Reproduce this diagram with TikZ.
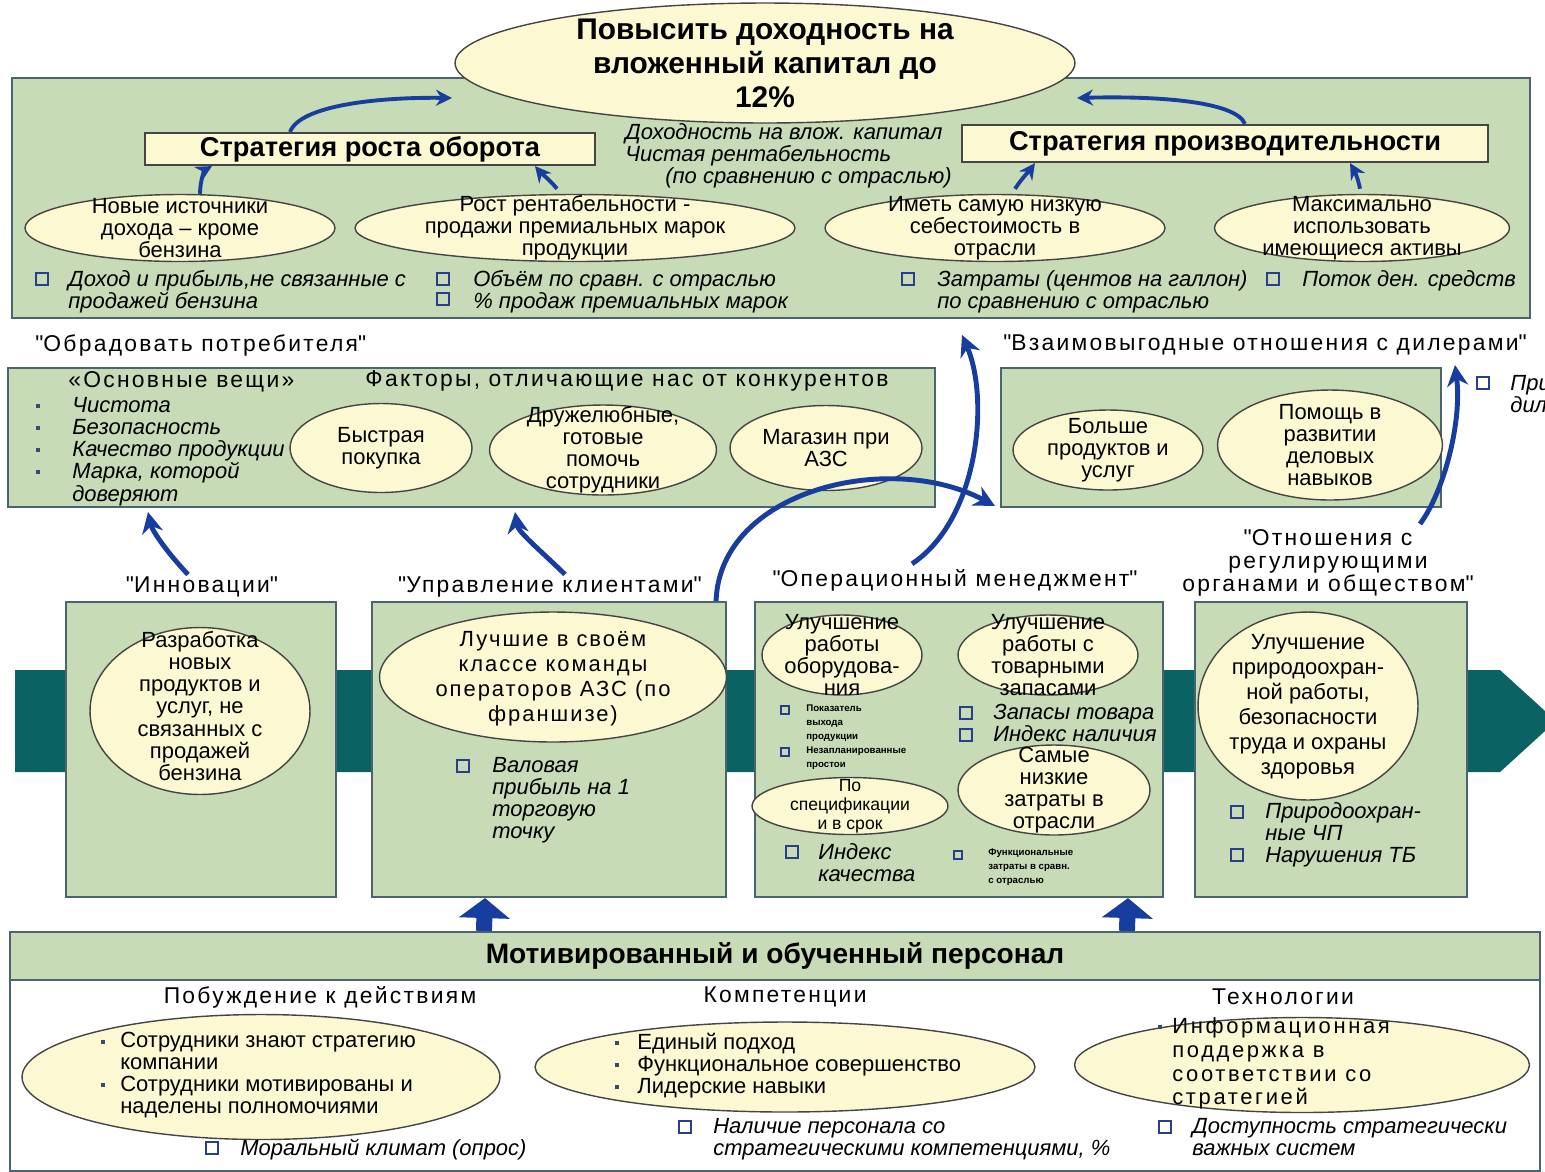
\documentclass[tikz,border=0pt]{standalone}
\usepackage{fontspec}
\setmainfont{Liberation Sans}
\usetikzlibrary{arrows.meta,shapes.geometric,fit,calc}
\definecolor{panelgreen}{HTML}{C6DBB6}
\definecolor{panelline}{HTML}{4A6470}
\definecolor{ovalfill}{HTML}{FCF9D2}
\definecolor{ovalline}{HTML}{454545}
\definecolor{bandteal}{HTML}{0A6262}
\definecolor{flowblue}{HTML}{173E9E}
\definecolor{chkblue}{HTML}{2A3F8C}
\definecolor{dotgray}{HTML}{3A4A6A}

\begin{document}
\begin{tikzpicture}[x=0.02cm,y=-0.02cm,
  panel/.style={draw=panelline,fill=panelgreen,line width=1.2pt,inner sep=0pt},
  board/.style={draw=ovalline,fill=ovalfill,line width=1.2pt,inner sep=0pt},
  oval/.style={ellipse,draw=ovalline,fill=ovalfill,line width=0.8pt,inner sep=0pt},
  txt/.style={font=\fontsize{12.5}{12.6}\selectfont,align=center,inner sep=0pt},
  big/.style={font=\fontsize{12.5}{14.2}\selectfont,align=center,inner sep=0pt},
  wide/.style={font=\fontsize{12.5}{14.2}\selectfont\addfontfeature{LetterSpace=9},align=center,inner sep=0pt},
  kpi/.style={font=\fontsize{12.5}{12.6}\selectfont\itshape,align=left,anchor=north west,inner sep=0pt},
  plain/.style={font=\fontsize{12.5}{12.4}\selectfont,align=left,anchor=north west,inner sep=0pt},
  tiny/.style={font=\fontsize{5.5}{8}\selectfont\bfseries,align=left,anchor=north west,inner sep=0pt},
  head/.style={font=\fontsize{13}{13.3}\selectfont\addfontfeature{LetterSpace=10},align=center,inner sep=0pt},
  chk/.style={draw=chkblue,line width=0.9pt,minimum size=0.24cm,inner sep=0pt},
  smallchk/.style={chk,minimum size=0.15cm},
  dot/.style={fill=dotgray,minimum size=0.08cm,inner sep=0pt},
  flow/.style={draw=flowblue,line width=2.8pt,-{Stealth[length=0.42cm,width=0.42cm]}},
  thinflow/.style={draw=flowblue,line width=2.2pt,-{Stealth[length=0.32cm,width=0.32cm]}},
  push/.style={draw=flowblue,line width=0.32cm,-{Triangle[length=0.4cm,width=1cm]}}
]
\useasboundingbox (0,0) rectangle (1545,1171);
\clip (0,0) rectangle (1545,1171);

% financial perspective
\node[panel,fit={(12,78) (1530,318)}] (fin) {};
\node[oval,minimum width=12.4cm,minimum height=2.4cm] (goal) at (765,63) {};
\node[font=\fontsize{17}{19.3}\selectfont\bfseries,align=center,inner sep=0pt] (goalt) at (goal) {Повысить доходность на\\вложенный капитал до\\12\%};
\node[board,fit={(145,133) (595,165)}] (grow) {};
\node[font=\fontsize{15.5}{16}\selectfont\bfseries,inner sep=0pt] (growt) at (grow) {Стратегия роста оборота};
\node[board,fit={(962,125) (1488,162)}] (prod) {};
\node[font=\fontsize{15.5}{16}\selectfont\bfseries,inner sep=0pt] (prodt) at (prod) {Стратегия производительности};
\node[kpi] (roi) at (625,123) {Доходность на влож. капитал\\Чистая рентабельность\\\hspace{0.8cm}(по сравнению с отраслью)};

\node[oval,minimum width=6.2cm,minimum height=1.34cm] (e1) at (180,228) {};
\node[txt] (e1t) at (e1) {Новые источники\\дохода -- кроме\\бензина};
\node[oval,minimum width=8.8cm,minimum height=1.34cm] (e2) at (575,228) {};
\node[txt] (e2t) at (e2) {Рост рентабельности -\\продажи премиальных марок\\продукции};
\node[oval,minimum width=6.8cm,minimum height=1.34cm] (e3) at (995,228) {};
\node[txt] (e3t) at (e3) {Иметь самую низкую\\себестоимость в\\отрасли};
\node[oval,minimum width=5.9cm,minimum height=1.34cm] (e4) at (1362,228) {};
\node[txt] (e4t) at (e4) {Максимально\\использовать\\имеющиеся активы};

\node[chk] (c1) at (42,279) {};
\node[kpi] (k1) at (68,270) {Доход и прибыль,не связанные с\\продажей бензина};
\node[chk] (c2) at (443,279) {};
\node[chk] (c3) at (443,299) {};
\node[kpi] (k2) at (473,270) {Объём по сравн. с отраслью\\\% продаж премиальных марок};
\node[chk] (c4) at (908,279) {};
\node[kpi] (k4) at (937,270) {Затраты (центов на галлон)\\по сравнению с отраслью};
\node[chk] (c5) at (1273,279) {};
\node[kpi] (k5) at (1302,270) {Поток ден. средств};

\coordinate (goalin1) at (452,98);
\coordinate (goalin2) at (1077,98);
\draw[thinflow] ($(grow.north)+(-80,0)$) .. controls (300,105) and (380,97) .. (goalin1);
\draw[thinflow] ($(prod.north)+(20,0)$) .. controls (1235,100) and (1150,96) .. (goalin2);
\draw[thinflow] ($(e1.north)+(20,0)$) .. controls (200,180) and (205,170) .. ($(grow.south)+(-158,0)$);
\draw[thinflow] ($(e2.north)+(-18,-5)$) .. controls (550,180) and (540,172) .. ($(grow.south)+(165,0)$);
\draw[thinflow] ($(e3.north)+(20,-5)$) .. controls (1022,178) and (1030,170) .. ($(prod.south)+(-190,0)$);
\draw[thinflow] ($(e4.north)+(-2,-5)$) .. controls (1358,178) and (1354,170) .. ($(prod.south)+(125,0)$);

% customer perspective
\node[head,anchor=west] (custl) at (35,345) {\textquotedbl Обрадовать потребителя\textquotedbl};
\node[panel,fit={(8,368) (935,507)}] (cust) {};
\node[head,anchor=west] (basics) at (68,382) {«Основные вещи»};
\node[head] (diff) at (627,381) {Факторы, отличающие нас от конкурентов};
\node[kpi] (basicl) at (72,397) {Чистота\\Безопасность\\Качество продукции\\Марка, которой\\доверяют};
\node[dot] (d1) at (38,406) {};
\node[dot] (d2) at (38,428) {};
\node[dot] (d3) at (38,450) {};
\node[dot] (d4) at (38,472) {};
\node[oval,minimum width=3.64cm,minimum height=1.78cm] (m1) at (381,448) {};
\node[txt] (m1t) at (m1) {Быстрая\\покупка};
\node[oval,minimum width=4.54cm,minimum height=1.8cm] (m2) at (603,450) {};
\node[txt] (m2t) at (m2) {Дружелюбные,\\готовые\\помочь\\сотрудники};
\node[oval,minimum width=3.84cm,minimum height=1.7cm] (m3) at (826,448) {};
\node[txt] (m3t) at (m3) {Магазин при\\АЗС};

\node[head,anchor=west] (deall) at (1003,345) {\textquotedbl Взаимовыгодные отношения с дилерами\textquotedbl};
\node[panel,fit={(1001,368) (1441,507)}] (deal) {};
\node[oval,minimum width=3.8cm,minimum height=1.6cm] (m4) at (1108,450) {};
\node[txt] (m4t) at (m4) {Больше\\продуктов и\\услуг};
\node[oval,minimum width=4.5cm,minimum height=2.2cm] (m5) at (1330,445) {};
\node[txt] (m5t) at (m5) {Помощь в\\развитии\\деловых\\навыков};
\node[chk] (c6) at (1483,383) {};
\node[kpi] (k6) at (1510,374) {Прибыльность\\дилеров};

% internal processes
\fill[bandteal] (15,670) -- (1500,670) -- (1556,721) -- (1500,772) -- (15,772) -- cycle;

\node[head] (innl) at (202,587) {\textquotedbl Инновации\textquotedbl};
\node[head] (clil) at (550,587) {\textquotedbl Управление клиентами\textquotedbl};
\node[head] (opl) at (955,580) {\textquotedbl Операционный менеджмент\textquotedbl};
\node[head] (regl) at (1328,563) {\textquotedbl Отношения с\\регулирующими\\органами и обществом\textquotedbl};

\node[panel,fit={(66,602) (336,897)}] (b1) {};
\node[panel,fit={(372,602) (726,897)}] (b2) {};
\node[panel,fit={(755,602) (1163,897)}] (b3) {};
\node[panel,fit={(1195,602) (1467,897)}] (b4) {};

\node[oval,minimum width=4.4cm,minimum height=3.34cm] (p1) at (200,711) {};
\node[txt] (p1t) at (200,706) {Разработка\\новых\\продуктов и\\услуг, не\\связанных с\\продажей\\бензина};

\node[oval,minimum width=6.94cm,minimum height=2.6cm] (p2) at (553,677) {};
\node[wide] (p2t) at (553,679) {Лучшие в своём\\классе команды\\операторов АЗС (по\\франшизе)};
\node[chk] (c7) at (463,766) {};
\node[kpi] (k7) at (492,757) {Валовая\\прибыль на 1\\торговую\\точку};

\node[oval,minimum width=3.2cm,minimum height=1.6cm] (o1) at (842,655) {};
\node[txt] (o1t) at (o1) {Улучшение\\работы\\оборудова-\\ния};
\node[oval,minimum width=3.6cm,minimum height=1.6cm] (o2) at (1048,655) {};
\node[txt] (o2t) at (o2) {Улучшение\\работы с\\товарными\\запасами};
\node[smallchk] (c8) at (785,710) {};
\node[tiny] (k8) at (806,704) {Показатель\\выхода\\продукции};
\node[smallchk] (c9) at (785,752) {};
\node[tiny] (k9) at (806,746) {Незапланированные\\простои};
\node[chk] (c10) at (966,713) {};
\node[chk] (c11) at (966,735) {};
\node[kpi] (k10) at (993,704) {Запасы товара\\Индекс наличия};
\node[oval,minimum width=3.92cm,minimum height=1.14cm] (o3) at (850,806) {};
\node[font=\fontsize{10}{10.8}\selectfont,align=center,inner sep=0pt] (o3t) at (o3) {По\\спецификации\\и в срок};
\node[oval,minimum width=3.84cm,minimum height=1.8cm] (o4) at (1054,790) {};
\node[txt] (o4t) at (o4) {Самые\\низкие\\затраты в\\отрасли};
\node[chk] (c12) at (792,852) {};
\node[kpi] (k12) at (818,843) {Индекс\\качества};
\node[smallchk] (c13) at (958,855) {};
\node[tiny] (k13) at (988,848) {Функциональные\\затраты в сравн.\\с отраслью};

\node[oval,minimum width=4.4cm,minimum height=3.76cm] (p4) at (1308,706) {};
\node[big] (p4t) at (1308,707) {Улучшение\\природоохран-\\ной работы,\\безопасности\\труда и охраны\\здоровья};
\node[chk] (c14) at (1237,812) {};
\node[chk] (c15) at (1237,855) {};
\node[kpi] (k14) at (1265,802) {Природоохран-\\ные ЧП\\Нарушения ТБ};

% learning and growth
\node[draw=panelline,fill=white,line width=1.2pt,inner sep=0pt,fit={(10,932) (1540,1171)}] (staff) {};
\node[panel,fit={(10,932) (1540,980)}] (staffh) {};
\node[font=\fontsize{16}{17}\selectfont\bfseries,inner sep=0pt] (stafft) at (staffh) {Мотивированный и обученный персонал};
\node[head] (s1l) at (320,997) {Побуждение к действиям};
\node[head] (s2l) at (785,997) {Компетенции};
\node[head] (s3l) at (1283,997) {Технологии};

\node[oval,minimum width=9.56cm,minimum height=2.5cm] (s1) at (261,1077) {};
\node[plain] (s1t) at (120,1032) {Сотрудники знают стратегию\\компании\\Сотрудники мотивированы и\\наделены полномочиями};
\node[dot] (d5) at (103,1042) {};
\node[dot] (d6) at (103,1085) {};
\node[oval,minimum width=10cm,minimum height=1.8cm] (s2) at (785,1067) {};
\node[plain] (s2t) at (637,1033) {Единый подход\\Функциональное совершенство\\Лидерские навыки};
\node[dot] (d7) at (617,1043) {};
\node[dot] (d8) at (617,1065) {};
\node[dot] (d9) at (617,1087) {};
\node[oval,minimum width=9.1cm,minimum height=1.9cm] (s3) at (1302,1065) {};
\node[font=\fontsize{12.5}{13.6}\selectfont\addfontfeature{LetterSpace=12},align=left,anchor=north west,inner sep=0pt] (s3t) at (1172,1017) {Информационная\\поддержка в\\соответствии со\\стратегией};
\node[dot] (d10) at (1160,1027) {};

\node[chk] (c16) at (212,1148) {};
\node[kpi] (k16) at (240,1139) {Моральный климат (опрос)};
\node[chk] (c17) at (685,1127) {};
\node[kpi] (k17) at (713,1118) {Наличие персонала со\\стратегическими компетенциями, \%};
\node[chk] (c18) at (1165,1127) {};
\node[kpi] (k18) at (1192,1118) {Доступность стратегически\\важных систем};

% links between perspectives
\draw[push] ($(staff.north west)+(475,0)$) -- ($(b2.south)+(-64,0)$);
\draw[push] ($(staff.north west)+(1118,0)$) -- ($(b3.south)+(169,0)$);
\coordinate (custin1) at (148,512);
\coordinate (custin2) at (515,512);
\coordinate (dealin) at (995,506);
\coordinate (finin1) at (962,335);
\coordinate (finin2) at (1455,365);
\draw[flow] ($(innl.north)+(-14,-2)$) .. controls (165,550) and (152,530) .. (custin1);
\draw[flow] ($(clil.north)+(15,-2)$) .. controls (540,550) and (518,532) .. (custin2);
\draw[flow] ($(b2.north east)+(-11,0)$) .. controls (720,490) and (890,450) .. (dealin);
\draw[flow] ($(opl.north)+(-43,-5)$) .. controls (978,520) and (990,400) .. (finin1);
\draw[flow] ($(regl.north)+(92,-5)$) .. controls (1445,490) and (1462,420) .. (finin2);
\end{tikzpicture}
\end{document}
